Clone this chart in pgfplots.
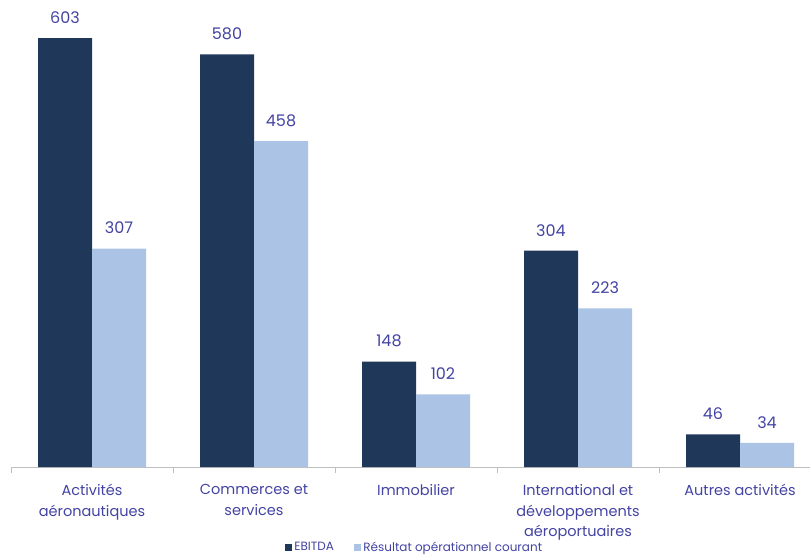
\documentclass[border=0pt]{standalone}
\usepackage{pgfplots}
\pgfplotsset{compat=1.18}
\usepackage{fontspec}
\setmainfont{Poppins}
\definecolor{navy}{HTML}{1F3759}
\definecolor{light}{HTML}{ABC4E5}
\definecolor{txt}{HTML}{4343A3}
\definecolor{axgray}{HTML}{BFBFBF}
\begin{document}
\begin{tikzpicture}[x=1pt,y=1pt]
\useasboundingbox (0,0) rectangle (810,555);
\begin{axis}[
  at={(11pt,88pt)}, anchor=south west,
  scale only axis, width=799pt, height=455.3pt,
  ybar, bar width=54pt,
  xmin=-0.5, xmax=4.432, ymin=0, ymax=640,
  axis y line=none,
  axis x line*=bottom,
  x axis line style={axgray, line width=1pt},
  xtick={0,1,2,3,4},
  xticklabels={{Activités\\aéronautiques},{Commerces et\\services},{Immobilier},{International et\\développements\\aéroportuaires},{Autres activités}},
  x tick label style={align=center, font=\fontsize{14.5}{20.5}\selectfont, text=txt, yshift=-14pt},
  major tick length=0pt,
  minor xtick={-0.5,0.5,1.5,2.5,3.5},
  minor tick length=6pt,
  minor tick style={axgray, line width=1pt},
  xtick pos=bottom, xtick align=outside,
  /pgf/number format/assume math mode=true,
  nodes near coords,
  nodes near coords style={font=\fontsize{16}{18}\selectfont, text=txt, yshift=11pt},
  legend style={at={(0.505,-0.176)}, anchor=center, draw=none, legend columns=2, font=\fontsize{12}{14}\selectfont, text=txt, /tikz/every even column/.append style={column sep=18pt}, inner sep=0pt},
  legend image code/.code={\fill[#1,draw=none] (0pt,-4pt) rectangle (7.5pt,3.5pt);},
  clip=false,
]
\addplot[fill=navy, draw=none, bar shift=-27pt] coordinates {(0,603) (1,580) (2,148) (3,304) (4,46)};
\addplot[fill=light, draw=none, bar shift=27pt] coordinates {(0,307) (1,458) (2,102) (3,223) (4,34)};
\legend{EBITDA,Résultat opérationnel courant}
\end{axis}
\end{tikzpicture}
\end{document}
